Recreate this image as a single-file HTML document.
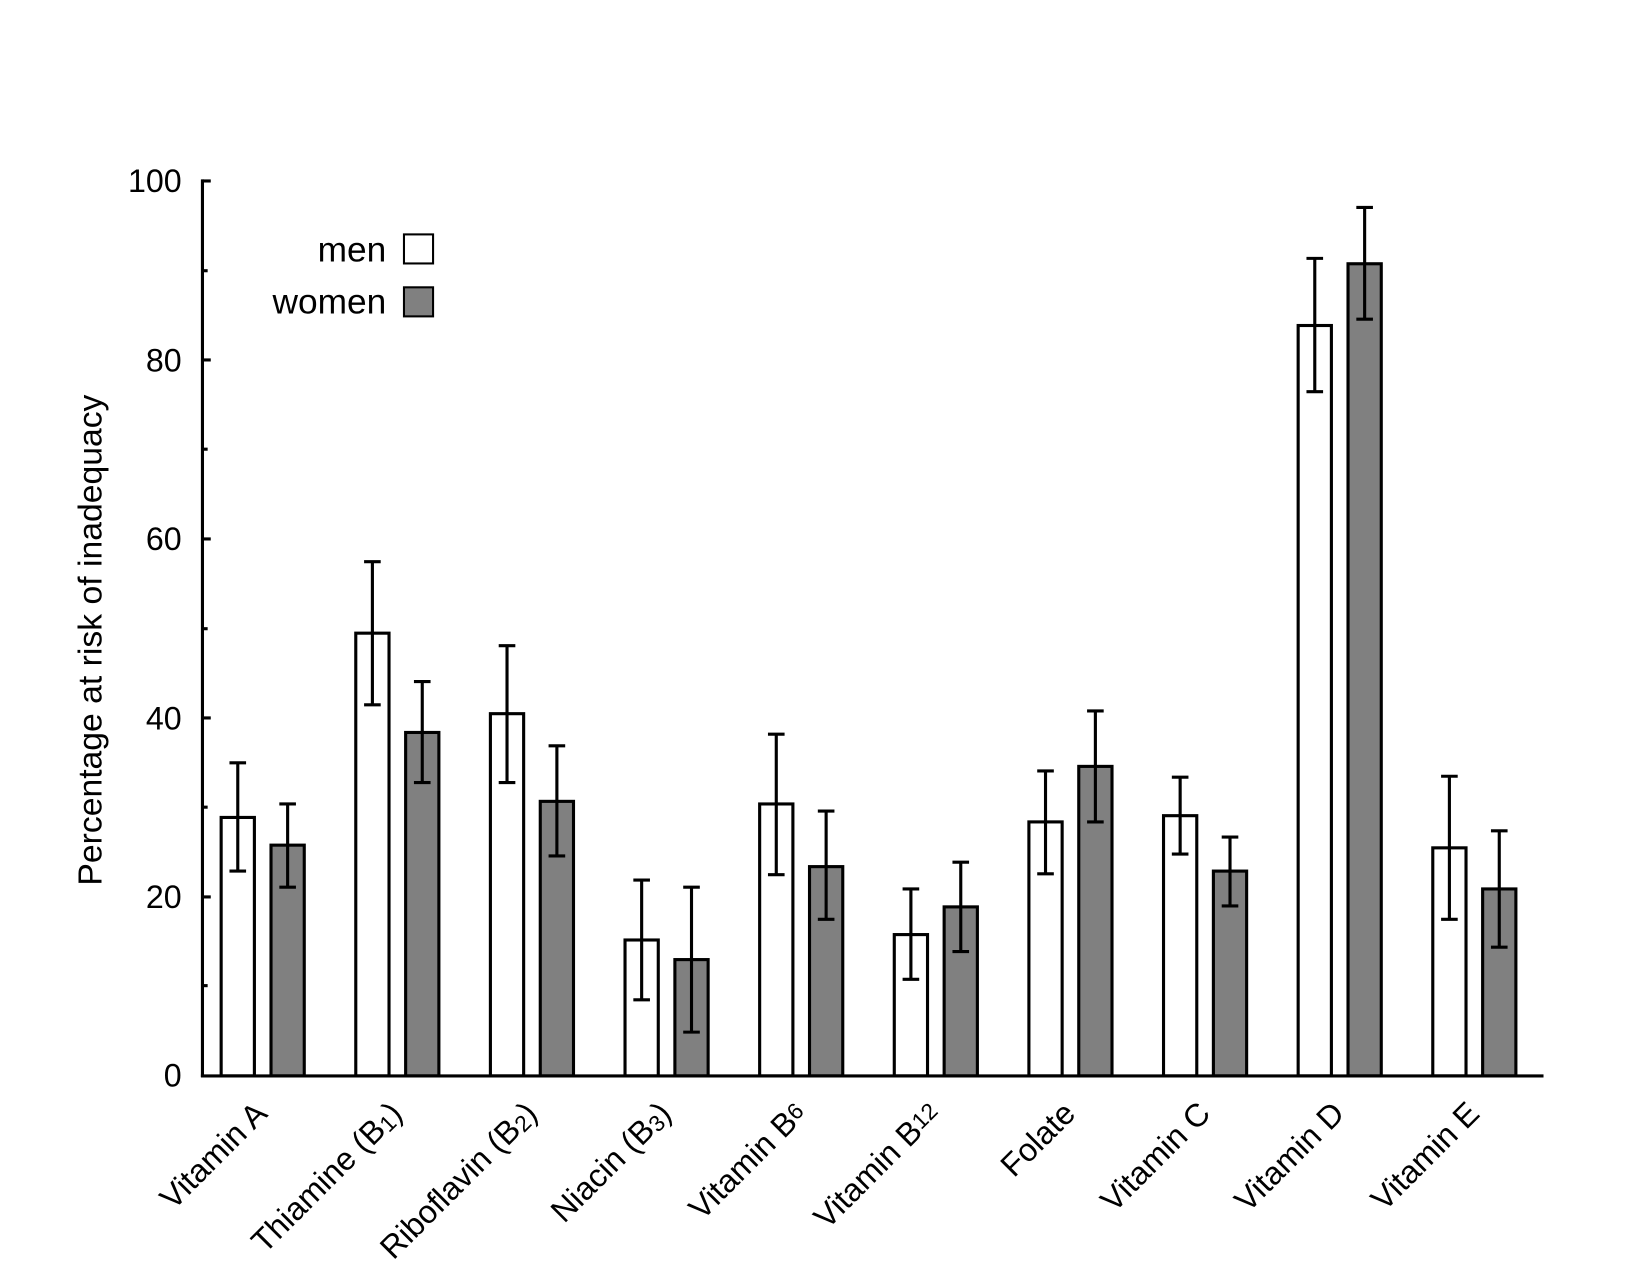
<!DOCTYPE html>
<html><head><meta charset="utf-8"><style>html,body{margin:0;padding:0;background:#fff}svg{display:block}</style></head>
<body>
<svg width="1627" height="1287" viewBox="0 0 1560 1234" preserveAspectRatio="none" xmlns="http://www.w3.org/2000/svg" font-family="Liberation Sans, Arial, sans-serif">
<rect width="1560" height="1234" fill="#fff"/>
<g transform="matrix(0.996,0,0,0.9949,-1.1,-0.1)">
<g stroke="#000" stroke-width="3">
<rect x="214" y="787.9" width="32" height="249.1" fill="#fff"/>
<rect x="262" y="814.6" width="32" height="222.4" fill="#808080"/>
<rect x="343.6" y="610.3" width="32" height="426.7" fill="#fff"/>
<rect x="391.6" y="706" width="32" height="331" fill="#808080"/>
<rect x="473.2" y="687.9" width="32" height="349.1" fill="#fff"/>
<rect x="521.2" y="772.4" width="32" height="264.6" fill="#808080"/>
<rect x="602.8" y="906" width="32" height="131" fill="#fff"/>
<rect x="650.8" y="924.9" width="32" height="112.1" fill="#808080"/>
<rect x="732.4" y="774.9" width="32" height="262.1" fill="#fff"/>
<rect x="780.4" y="835.3" width="32" height="201.7" fill="#808080"/>
<rect x="862" y="900.8" width="32" height="136.2" fill="#fff"/>
<rect x="910" y="874.1" width="32" height="162.9" fill="#808080"/>
<rect x="991.6" y="792.2" width="32" height="244.8" fill="#fff"/>
<rect x="1039.6" y="738.7" width="32" height="298.3" fill="#808080"/>
<rect x="1121.2" y="786.2" width="32" height="250.8" fill="#fff"/>
<rect x="1169.2" y="839.6" width="32" height="197.4" fill="#808080"/>
<rect x="1250.8" y="313.8" width="32" height="723.2" fill="#fff"/>
<rect x="1298.8" y="254.3" width="32" height="782.7" fill="#808080"/>
<rect x="1380.4" y="817.2" width="32" height="219.8" fill="#fff"/>
<rect x="1428.4" y="856.8" width="32" height="180.2" fill="#808080"/>
</g>
<g stroke="#000" stroke-width="3" fill="none">
<path d="M222 735.3H238M230 735.3V839.6M222 839.6H238"/>
<path d="M270 774.9H286M278 774.9V855.1M270 855.1H286"/>
<path d="M351.6 541.4H367.6M359.6 541.4V679.3M351.6 679.3H367.6"/>
<path d="M399.6 656.9H415.6M407.6 656.9V754.3M399.6 754.3H415.6"/>
<path d="M481.2 622.4H497.2M489.2 622.4V754.3M481.2 754.3H497.2"/>
<path d="M529.2 718.9H545.2M537.2 718.9V825M529.2 825H545.2"/>
<path d="M610.8 848.2H626.8M618.8 848.2V963.7M610.8 963.7H626.8"/>
<path d="M658.8 855.1H674.8M666.8 855.1V994.8M658.8 994.8H674.8"/>
<path d="M740.4 707.7H756.4M748.4 707.7V843.1M740.4 843.1H756.4"/>
<path d="M788.4 781.8H804.4M796.4 781.8V886.1M788.4 886.1H804.4"/>
<path d="M870 856.8H886M878 856.8V943.9M870 943.9H886"/>
<path d="M918 831H934M926 831V917.2M918 917.2H934"/>
<path d="M999.6 743.1H1015.6M1007.6 743.1V842.2M999.6 842.2H1015.6"/>
<path d="M1047.6 685.3H1063.6M1055.6 685.3V792.2M1047.6 792.2H1063.6"/>
<path d="M1129.2 749.1H1145.2M1137.2 749.1V823.2M1129.2 823.2H1145.2"/>
<path d="M1177.2 806.8H1193.2M1185.2 806.8V873.2M1177.2 873.2H1193.2"/>
<path d="M1258.8 249.1H1274.8M1266.8 249.1V377.6M1258.8 377.6H1274.8"/>
<path d="M1306.8 200H1322.8M1314.8 200V307.7M1306.8 307.7H1322.8"/>
<path d="M1388.4 748.2H1404.4M1396.4 748.2V886.1M1388.4 886.1H1404.4"/>
<path d="M1436.4 800.8H1452.4M1444.4 800.8V912.9M1436.4 912.9H1452.4"/>
<line x1="196" y1="173" x2="196" y2="1038"/>
<line x1="194.5" y1="1037" x2="1487" y2="1037"/>
<line x1="196" y1="174.5" x2="204" y2="174.5"/>
<line x1="196" y1="347" x2="204" y2="347"/>
<line x1="196" y1="519.5" x2="204" y2="519.5"/>
<line x1="196" y1="692" x2="204" y2="692"/>
<line x1="196" y1="864.5" x2="204" y2="864.5"/>
<line x1="196" y1="261" x2="201" y2="261"/>
<line x1="196" y1="433" x2="201" y2="433"/>
<line x1="196" y1="606" x2="201" y2="606"/>
<line x1="196" y1="778" x2="201" y2="778"/>
<line x1="196" y1="950" x2="201" y2="950"/>
</g>
<g font-size="31" text-anchor="end" fill="#000">
<text x="176" y="185">100</text>
<text x="176" y="358">80</text>
<text x="176" y="530">60</text>
<text x="176" y="703">40</text>
<text x="176" y="875">20</text>
<text x="176" y="1047">0</text>
</g>
<text transform="translate(99,617) rotate(-90)" font-size="32.5" text-anchor="middle">Percentage at risk of inadequacy</text>
<g font-size="34" text-anchor="end">
<text x="373" y="252">men</text>
<text x="373" y="302">women</text>
</g>
<rect x="390" y="226" width="28" height="28" fill="#fff" stroke="#000" stroke-width="2"/>
<rect x="390" y="277" width="28" height="28" fill="#808080" stroke="#000" stroke-width="2"/>
<g font-size="31" text-anchor="end">
<text transform="translate(260,1075) rotate(-45)">Vitamin A</text>
<text transform="translate(390,1075) rotate(-45)">Thiamine (B<tspan font-size="22" dy="2">1</tspan><tspan dy="-2">)</tspan></text>
<text transform="translate(520,1075) rotate(-45)">Riboflavin (B<tspan font-size="22" dy="2">2</tspan><tspan dy="-2">)</tspan></text>
<text transform="translate(649,1075) rotate(-45)">Niacin (B<tspan font-size="22" dy="2">3</tspan><tspan dy="-2">)</tspan></text>
<text transform="translate(779,1075) rotate(-45)">Vitamin B<tspan font-size="22" dy="-4">6</tspan></text>
<text transform="translate(908,1075) rotate(-45)">Vitamin B<tspan font-size="22" dy="-4">12</tspan></text>
<text transform="translate(1038,1075) rotate(-45)">Folate</text>
<text transform="translate(1168,1075) rotate(-45)">Vitamin C</text>
<text transform="translate(1297,1075) rotate(-45)">Vitamin D</text>
<text transform="translate(1427,1075) rotate(-45)">Vitamin E</text>
</g>
</g>
</svg>
</body></html>
